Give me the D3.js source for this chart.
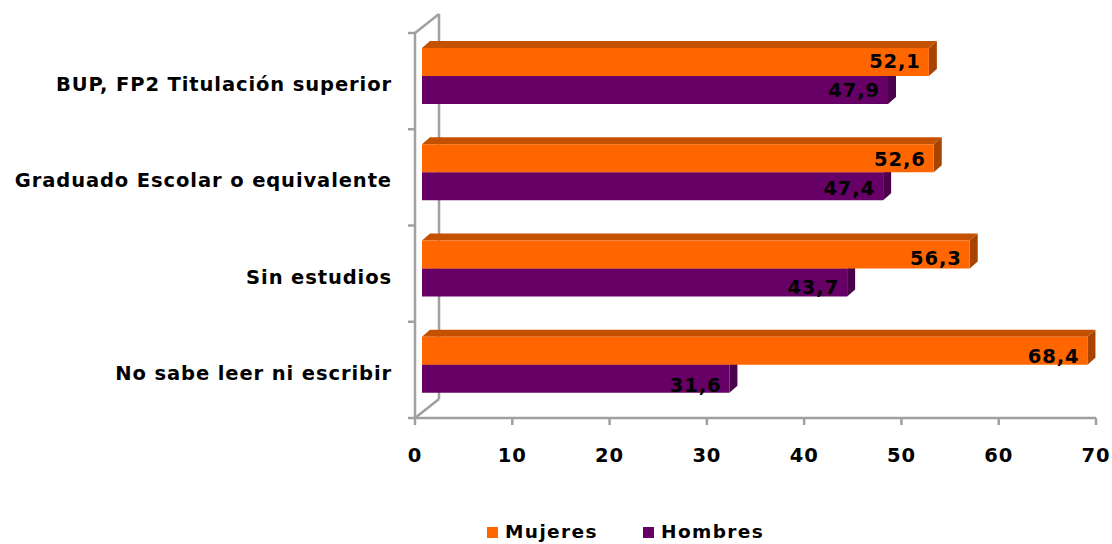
<!DOCTYPE html>
<head>
    <meta charset="utf-8">
    <script src="https://d3js.org/d3.v7.min.js" charset="utf-8"></script>
    <style>
    body{ margin:0; background:#fff; }
    text{ font-family:"DejaVu Sans", Verdana, sans-serif; font-weight:bold; fill:#000; font-size:19.5px; letter-spacing:0.9px; }
    </style>
</head>
<body>
<svg id="chart" width="1112" height="544"></svg>
<script>
    var categories = ["BUP, FP2 Titulación superior", "Graduado Escolar o equivalente", "Sin estudios", "No sabe leer ni escribir"];
    var mujeres = [52.1, 52.6, 56.3, 68.4];
    var hombres = [47.9, 47.4, 43.7, 31.6];
    var xTicks = [0, 10, 20, 30, 40, 50, 60, 70];
    var seriesNames = ["Mujeres", "Hombres"];

    var front = {fill:"#ff6600", top:"#c45100", side:"#a84300"};
    var back = {fill:"#660066", top:"#4d004d", side:"#4a004a"};

    var svg = d3.select("#chart");
    var axisColor = "#a0a0a0";

    var xScale = d3.scaleLinear().domain([0,70]).range([415,1096]);
    var yScale = d3.scaleBand().domain(categories).range([33,418]);

    var dx = 8, dy = -7;   // bar depth
    var wx = 24, wy = -19; // wall depth
    var barH = 28;

    // back wall line
    svg.append("line")
        .attr("x1", xScale(0)+wx).attr("x2", xScale(0)+wx)
        .attr("y1", 33+wy).attr("y2", 418+wy)
        .attr("stroke", axisColor).attr("stroke-width", 2.5);
    svg.append("line")
        .attr("x1", xScale(0)).attr("y1", 33)
        .attr("x2", xScale(0)+wx).attr("y2", 33+wy)
        .attr("stroke", axisColor).attr("stroke-width", 2.5);
    svg.append("line")
        .attr("x1", xScale(0)).attr("y1", 418)
        .attr("x2", xScale(0)+wx).attr("y2", 418+wy)
        .attr("stroke", axisColor).attr("stroke-width", 2.5);

    function bar(v, y, c){
        var x0 = xScale(0)+7, x1 = xScale(v)+7;
        var g = svg.append("g");
        g.append("polygon")
            .attr("points", [[x1,y],[x1+dx,y+dy],[x1+dx,y+barH+dy],[x1,y+barH]].join(" "))
            .attr("fill", c.side);
        g.append("polygon")
            .attr("points", [[x0,y],[x0+dx,y+dy],[x1+dx,y+dy],[x1,y]].join(" "))
            .attr("fill", c.top);
        g.append("rect")
            .attr("x", x0).attr("y", y)
            .attr("width", x1-x0).attr("height", barH)
            .attr("fill", c.fill);
    }

    categories.forEach(function(cat, i){
        var top = yScale(cat) + 15;
        bar(hombres[i], top+barH, back);
        bar(mujeres[i], top, front);
    });

    // front vertical axis
    svg.append("line")
        .attr("x1", xScale(0)).attr("x2", xScale(0))
        .attr("y1", 33).attr("y2", 419)
        .attr("stroke", axisColor).attr("stroke-width", 2.5);
    var yTickPos = categories.map(function(c){ return yScale(c); }).concat([418]);
    yTickPos.forEach(function(y){
        svg.append("line")
            .attr("x1", xScale(0)-7).attr("x2", xScale(0))
            .attr("y1", y).attr("y2", y)
            .attr("stroke", axisColor).attr("stroke-width", 2.5);
    });

    // bottom axis
    svg.append("line")
        .attr("x1", xScale(0)).attr("x2", xScale(70))
        .attr("y1", 418).attr("y2", 418)
        .attr("stroke", axisColor).attr("stroke-width", 2.5);
    xTicks.forEach(function(t){
        svg.append("line")
            .attr("x1", xScale(t)).attr("x2", xScale(t))
            .attr("y1", 418).attr("y2", 425)
            .attr("stroke", axisColor).attr("stroke-width", 2.5);
        svg.append("text")
            .attr("x", xScale(t)).attr("y", 462)
            .attr("text-anchor", "middle")
            .text(t);
    });

    // category labels
    categories.forEach(function(cat){
        svg.append("text")
            .attr("x", 392)
            .attr("y", yScale(cat) + yScale.bandwidth()/2 + 10)
            .attr("text-anchor", "end")
            .text(cat);
    });

    // value labels
    function fmt(v){ return d3.format(".1f")(v).replace(".", ","); }
    categories.forEach(function(cat, i){
        var top = yScale(cat) + 15;
        svg.append("text")
            .attr("x", xScale(mujeres[i]) + 7 - 8)
            .attr("y", top + barH/2 + 6 + i*2)
            .attr("text-anchor", "end")
            .text(fmt(mujeres[i]));
        svg.append("text")
            .attr("x", xScale(hombres[i]) + 7 - 8)
            .attr("y", top + barH + barH/2 + 7 + i*2)
            .attr("text-anchor", "end")
            .text(fmt(hombres[i]));
    });

    // legend
    var legX = [487, 643];
    [front, back].forEach(function(c, i){
        svg.append("rect")
            .attr("x", legX[i]).attr("y", 527)
            .attr("width", 11).attr("height", 11)
            .attr("fill", c.fill);
        svg.append("text")
            .attr("x", legX[i] + 18).attr("y", 538)
            .style("font-size", "18.5px")
            .style("letter-spacing", "1.4px")
            .text(seriesNames[i]);
    });
</script>
</body>
